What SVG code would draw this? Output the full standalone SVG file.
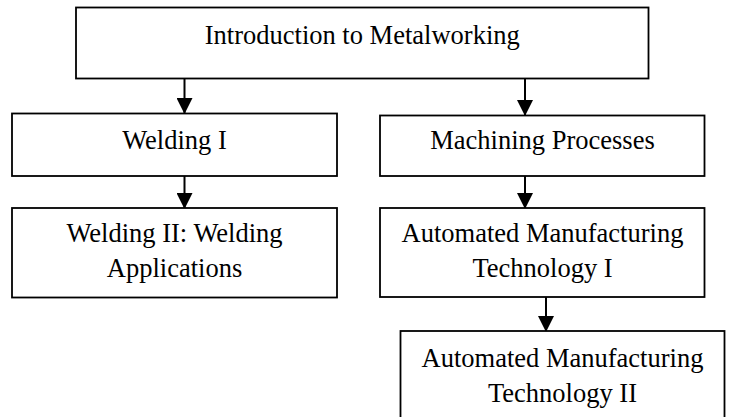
<svg xmlns="http://www.w3.org/2000/svg" width="731" height="417" viewBox="0 0 731 417">
  <style>
    .box { fill: #ffffff; stroke: #000000; stroke-width: 1.8; }
    .label { font-family: "Liberation Serif", "Times New Roman", serif; font-size: 26.5px; fill: #000000; text-anchor: middle; }
    .edge { stroke: #000000; stroke-width: 2; fill: none; marker-end: url(#arrow); }
  </style>
  <defs>
    <marker id="arrow" markerUnits="userSpaceOnUse" markerWidth="16" markerHeight="16" refX="15" refY="8" orient="auto">
      <path d="M0,0 L16,8 L0,16 Z" fill="#000000"/>
    </marker>
  </defs>
  <rect width="731" height="417" fill="#ffffff"/>

  <g id="connectors">
    <line class="edge" x1="184.5" y1="78.5" x2="184.5" y2="113"/>
    <line class="edge" x1="525" y1="78.5" x2="525" y2="115"/>
    <line class="edge" x1="184.5" y1="176" x2="184.5" y2="208"/>
    <line class="edge" x1="525" y1="176" x2="525" y2="208"/>
    <line class="edge" x1="546" y1="297" x2="546" y2="331"/>
  </g>

  <g id="intro">
    <rect class="box" x="76" y="7.5" width="572.5" height="71"/>
    <text class="label" x="362.25" y="44">Introduction to Metalworking</text>
  </g>

  <g id="welding1">
    <rect class="box" x="12" y="113.5" width="325" height="62.5"/>
    <text class="label" x="174.5" y="149">Welding I</text>
  </g>

  <g id="machining">
    <rect class="box" x="380" y="115.5" width="324.5" height="60.5"/>
    <text class="label" x="542.5" y="149">Machining Processes</text>
  </g>

  <g id="welding2">
    <rect class="box" x="12" y="208" width="325" height="89.5"/>
    <text class="label" x="174.5" y="242">Welding II: Welding</text>
    <text class="label" x="174.5" y="277">Applications</text>
  </g>

  <g id="amt1">
    <rect class="box" x="380" y="208" width="324.5" height="89"/>
    <text class="label" x="542.5" y="242">Automated Manufacturing</text>
    <text class="label" x="542.5" y="277">Technology I</text>
  </g>

  <g id="amt2">
    <rect class="box" x="400.5" y="331" width="324" height="90"/>
    <text class="label" x="562.5" y="367">Automated Manufacturing</text>
    <text class="label" x="562.5" y="401.5">Technology II</text>
  </g>
</svg>
